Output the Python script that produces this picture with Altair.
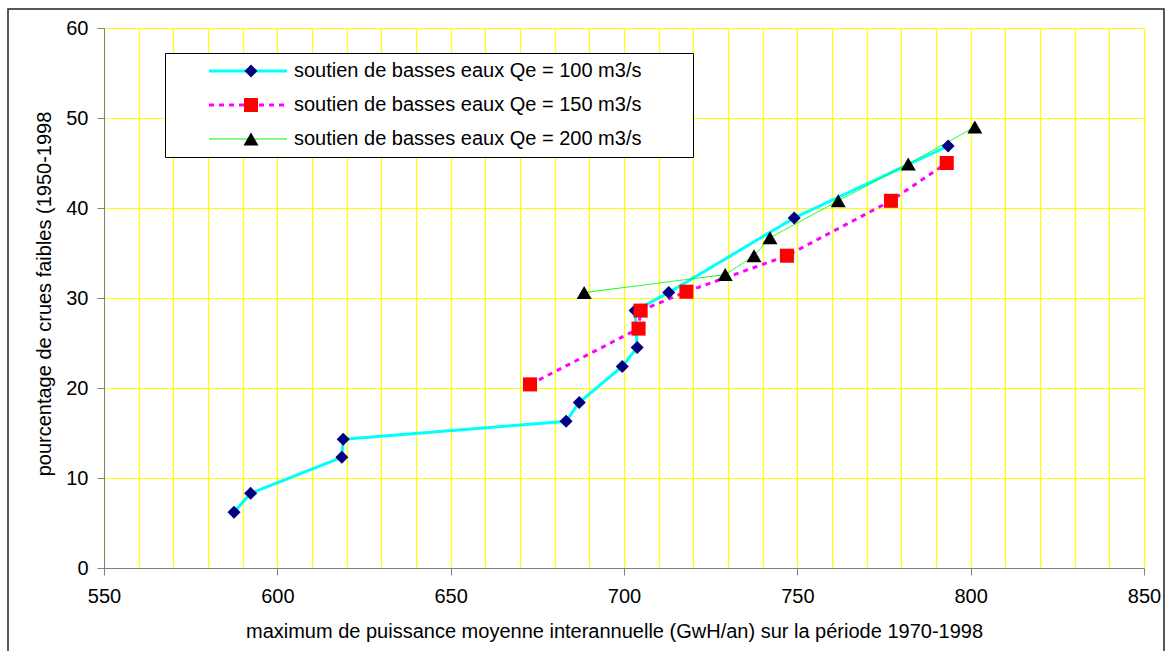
import altair as alt
import pandas as pd

labels = [
    "soutien de basses eaux Qe = 100 m3/s",
    "soutien de basses eaux Qe = 150 m3/s",
    "soutien de basses eaux Qe = 200 m3/s",
]
s100_x = [587.5, 592.3, 618.6, 619.0, 683.3, 687.1, 699.5, 703.8, 703.2, 712.9, 749.1, 793.5]
s100_y = [6.2, 8.3, 12.3, 14.3, 16.3, 18.4, 22.4, 24.5, 28.6, 30.6, 38.9, 46.9]
s150_x = [672.9, 704.2, 704.8, 718.0, 747.0, 777.0, 793.1]
s150_y = [20.4, 26.6, 28.6, 30.7, 34.7, 40.8, 45.0]
s200_x = [688.5, 729.2, 737.5, 742.1, 761.8, 782.0, 801.2]
s200_y = [30.6, 32.6, 34.7, 36.7, 40.8, 44.9, 49.0]

x_ticks = list(range(550, 851, 10))
y_ticks = list(range(0, 61, 10))

rows = []
for lab, xs, ys in zip(labels, [s100_x, s150_x, s200_x], [s100_y, s150_y, s200_y]):
    for i, (xv, yv) in enumerate(zip(xs, ys)):
        rows.append({"s_line": lab, "s_pt": lab, "x": xv, "y": yv, "idx": i})
df = pd.DataFrame(rows)

FONT = "Liberation Sans"
FS = 20
line_colors = ["#00FFFF", "#FF00FF", "#00FF00"]
pt_colors = ["#000080", "#FF0000", "#000000"]
shapes = ["diamond", "square", "triangle-up"]

x_enc = alt.X(
    "x:Q",
    scale=alt.Scale(domain=[550, 850], nice=False, zero=False),
    axis=alt.Axis(
        values=x_ticks,
        labelExpr="datum.value % 50 === 0 ? datum.label : ''",
        tickColor={"condition": {"test": "datum.value % 50 === 0", "value": "#808080"}, "value": "transparent"},
        title="maximum de puissance moyenne interannuelle (GwH/an) sur la période 1970-1998",
        grid=True, gridColor="#FFFF00", gridWidth=1.2,
        domainColor="#808080", tickSize=7, labelPadding=11,
        labelFont=FONT, labelFontSize=FS, labelColor="black",
        titleFont=FONT, titleFontSize=FS, titleFontWeight="normal", titleColor="black",
        titlePadding=15, titleX=510, labelOverlap=False, labelFlush=False,
    ),
)
y_enc = alt.Y(
    "y:Q",
    scale=alt.Scale(domain=[0, 60], nice=False),
    axis=alt.Axis(
        values=y_ticks,
        title="pourcentage de crues faibles (1950-1998",
        grid=True, gridColor="#FFFF00", gridWidth=1.2,
        domainColor="#808080", tickColor="#808080", tickSize=7, labelPadding=9,
        labelFont=FONT, labelFontSize=FS, labelColor="black",
        titleFont=FONT, titleFontSize=FS, titleFontWeight="normal", titleColor="black",
        titlePadding=11, titleY=265.5, labelOverlap=False,
    ),
)

leg_line = alt.Legend(
    title=None, orient="none", legendX=61, legendY=25, direction="vertical",
    symbolType="stroke", symbolSize=6084,
    symbolStrokeWidth={"expr": "datum.index === 2 ? 1 : 3"},
    symbolOffset=67, labelOffset=36,
    labelFont=FONT, labelFontSize=FS, labelColor="black",
    labelExpr="datum.label + '\u2800\u2800\u2800'",
    fillColor="white", strokeColor="black", padding=6,
    rowPadding=10, clipHeight=24, zindex=1, labelLimit=1000,
)
leg_pt = alt.Legend(
    title=None, orient="none", legendX=61, legendY=25, direction="vertical",
    symbolOffset=70, labelOffset=0, labelExpr="''",
    labelFont=FONT, labelFontSize=FS,
    padding=6, rowPadding=10, clipHeight=24, zindex=2,
    symbolStrokeWidth=0, symbolOpacity=1, symbolSize=190,
)

lines = alt.Chart(df).mark_line().encode(
    x=x_enc, y=y_enc, order=alt.Order("idx:Q"),
    stroke=alt.Stroke("s_line:N", scale=alt.Scale(domain=labels, range=line_colors), legend=leg_line),
    strokeDash=alt.StrokeDash("s_line:N", scale=alt.Scale(domain=labels, range=[[1, 0], [5, 5], [1, 0]]), legend=leg_line),
    strokeWidth={"condition": {"test": f"datum.s_line === '{labels[2]}'", "value": 1}, "value": 3},
)
points = alt.Chart(df).mark_point(filled=True, opacity=1).encode(
    x=x_enc, y=y_enc,
    color=alt.Color("s_pt:N", scale=alt.Scale(range=pt_colors), legend=leg_pt),
    shape=alt.Shape("s_pt:N", scale=alt.Scale(range=shapes), legend=leg_pt),
    size=alt.Size("s_pt:N", scale=alt.Scale(type="point", range=[170, 225]), legend=None),
)
frame = alt.Chart(alt.Data(values=[{}])).mark_rect(
    fill="transparent", stroke="#222222", strokeWidth=1.5
).encode(
    x=alt.value(-96), x2=alt.value(1060), y=alt.value(-19), y2=alt.value(640)
)

chart = alt.layer(lines, points, frame).properties(
    width=1040, height=540,
    autosize=alt.AutoSizeParams(type="none"),
    padding={"left": 104, "top": 28, "right": 24, "bottom": 83},
    background="white",
).configure_view(stroke=None)

chart.save("out.html", embed_options={"renderer": "svg", "actions": False})
